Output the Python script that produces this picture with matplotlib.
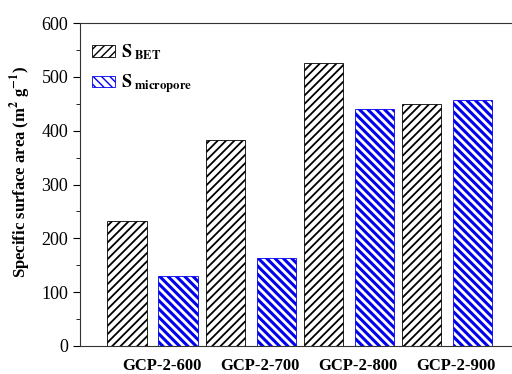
import matplotlib
matplotlib.use('Agg')
import matplotlib.pyplot as plt
from matplotlib.ticker import MultipleLocator
import numpy as np

samples = ['GCP-2-600', 'GCP-2-700', 'GCP-2-800', 'GCP-2-900']
s_bet = [233, 383, 525, 450]
s_micro = [130, 163, 441, 457]

plt.rcParams['font.family'] = ['Liberation Serif', 'DejaVu Serif']
plt.rcParams['mathtext.fontset'] = 'stix'

fig = plt.figure(figsize=(5.12, 3.74), dpi=100)
ax = fig.add_axes([80 / 512, 28 / 374, 432 / 512, 323 / 374])

x = np.arange(len(samples))
w = 0.40
b1 = ax.bar(x - 0.255, s_bet, w, facecolor='white', edgecolor='black',
            hatch='////', linewidth=0.6, label=r'$\mathbf{S}_{\ \mathbf{BET}}$')
b2 = ax.bar(x + 0.265, s_micro, w, facecolor='white', edgecolor='#0000ee',
            hatch='\\\\\\\\', linewidth=0.6,
            label=r'$\mathbf{S}_{\ \mathbf{micropore}}$')
for p in b1:
    if hasattr(p, 'set_hatch_linewidth'):
        p.set_hatch_linewidth(1.3)
for p in b2:
    if hasattr(p, 'set_hatch_linewidth'):
        p.set_hatch_linewidth(2.2)

ax.set_xlim(-0.735, 3.67)
ax.set_ylim(0, 600)
ax.yaxis.set_major_locator(MultipleLocator(100))
ax.yaxis.set_minor_locator(MultipleLocator(50))
ax.tick_params(axis='y', which='major', direction='out', length=5, labelsize=13)
ax.tick_params(axis='y', which='minor', direction='out', length=3)
ax.set_xticks(x + 0.1)
ax.set_xticklabels(samples, fontweight='bold', fontsize=12)
ax.tick_params(axis='x', length=0, pad=9)
ax.spines['right'].set_visible(False)
for s in ['left', 'top', 'bottom']:
    ax.spines[s].set_linewidth(0.8)
    ax.spines[s].set_color('#333333')

ax.set_ylabel(r'Specific surface area (m$^{\mathbf{2}}$ g$^{\mathbf{-1}}$)',
              fontweight='bold', fontsize=12)
ax.yaxis.set_label_coords(-0.108, 0.54)

leg = ax.legend(loc='upper left', frameon=False, fontsize=13,
                handlelength=1.3, handleheight=0.6, handletextpad=0.3,
                labelspacing=0.6, bbox_to_anchor=(-0.01, 0.99))

fig.savefig('out.png', dpi=100)
